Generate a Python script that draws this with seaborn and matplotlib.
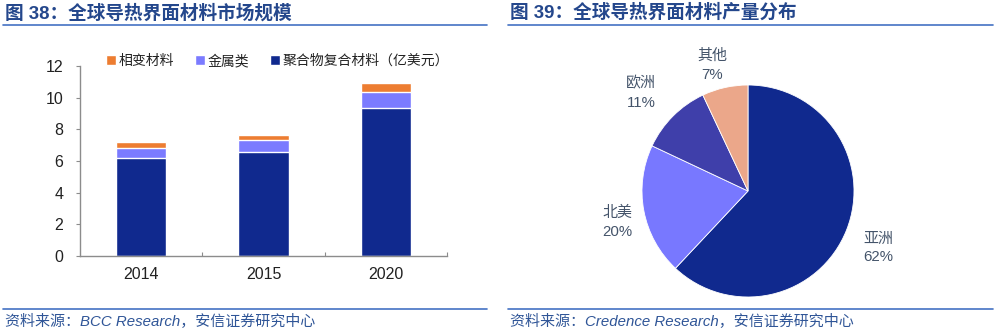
import matplotlib
matplotlib.use("Agg")
import matplotlib.pyplot as plt
from matplotlib.lines import Line2D
from matplotlib.patches import Patch
import numpy as np
import pandas as pd
import seaborn as sns

# ---------------- data ----------------
years = ["2014", "2015", "2020"]
polymer = [6.2, 6.6, 9.35]      # 聚合物复合材料
metal = [0.65, 0.7, 1.03]       # 金属类
phase = [0.35, 0.35, 0.55]      # 相变材料
series_names = ["相变材料", "金属类", "聚合物复合材料（亿美元）"]
yticks = [0, 2, 4, 6, 8, 10, 12]

regions = ["亚洲", "北美", "欧洲", "其他"]
shares = [62, 20, 11, 7]

title_left = "图 38：全球导热界面材料市场规模"
title_right = "图 39：全球导热界面材料产量分布"
source_left = "资料来源：BCC Research，安信证券研究中心"
source_right = "资料来源：Credence Research，安信证券研究中心"

# ---------------- style ----------------
sns.set_theme(style="white")
FONTS = ["Liberation Sans", "Noto Sans CJK SC", "DejaVu Sans"]
plt.rcParams["font.family"] = FONTS

C_POLY = "#10298E"
C_METAL = "#7B7BFF"
C_PHASE = "#ED7D31"
PIE_COLORS = ["#10298E", "#7878FF", "#3F3FAA", "#EBA78A"]
TITLE_C = "#24478C"
LINE_C = "#4472C4"
LABEL_C = "#44546A"

W, H = 1000, 333
fig = plt.figure(figsize=(10, 3.33), dpi=100)

def fx(px):
    return px / W

def fy(py):
    return 1 - py / H

# titles, rules, sources
for x0, x1, t, s in [(5, 487, title_left, source_left), (510, 993, title_right, source_right)]:
    fig.text(fx(x0), fy(13), t, fontsize=13.4, fontweight="bold", color=TITLE_C,
             va="center", ha="left", family=FONTS)
    fig.add_artist(Line2D([fx(x0 - 2), fx(x1)], [fy(25), fy(25)], color=LINE_C, lw=1.2))
    fig.add_artist(Line2D([fx(x0 - 2), fx(x1)], [fy(309), fy(309)], color=LINE_C, lw=1.2))
    fig.text(fx(x0), fy(322), s, fontsize=10.8, style="italic", color="#2F5597",
             va="center", ha="left", family=FONTS)

# ---------------- bar chart ----------------
ax = fig.add_axes([fx(80), fy(256), fx(447 - 80), (256 - 66) / H])
df = pd.DataFrame({"year": years, "polymer": polymer, "metal": metal, "phase": phase})
df["pm"] = df["polymer"] + df["metal"]
df["total"] = df["pm"] + df["phase"]

bw = 0.41
sns.barplot(data=df, x="year", y="total", color=C_PHASE, width=bw, ax=ax, saturation=1)
sns.barplot(data=df, x="year", y="pm", color=C_METAL, width=bw, ax=ax, saturation=1)
sns.barplot(data=df, x="year", y="polymer", color=C_POLY, width=bw, ax=ax, saturation=1)

ax.set_xlim(-0.5, 2.5)
ax.set_ylim(0, 12)
ax.set_yticks(yticks)
ax.set_xlabel("")
ax.set_ylabel("")
for sp in ["top", "right"]:
    ax.spines[sp].set_visible(False)
for sp in ["left", "bottom"]:
    ax.spines[sp].set_color("#8C8C8C")
    ax.spines[sp].set_linewidth(1.0)
ax.tick_params(axis="y", direction="out", length=3, width=0.8, color="#8C8C8C",
               labelsize=11.5, labelcolor="#222222", pad=9, left=True)
ax.tick_params(axis="x", which="major", length=0, labelsize=11.5, labelcolor="#222222", pad=8)
ax.set_xticks([0.5, 1.5, 2.5], minor=True)
ax.tick_params(axis="x", which="minor", direction="in", length=3, width=0.8, color="#8C8C8C",
               bottom=True)

handles = [Patch(facecolor=C_PHASE), Patch(facecolor=C_METAL), Patch(facecolor=C_POLY)]
fig.legend(handles, series_names, loc="center left", bbox_to_anchor=(fx(106), fy(61)),
           ncol=3, frameon=False, fontsize=10, handlelength=0.7, handleheight=0.7,
           handletextpad=0.2, columnspacing=1.5, borderaxespad=0, borderpad=0,
           labelcolor="#222222")

# ---------------- pie chart ----------------
cx, cy, r = 748, 191, 106
pax = fig.add_axes([fx(cx - r), fy(cy + r), 2 * r / W, 2 * r / H])
pax.pie(shares, colors=PIE_COLORS, startangle=90, counterclock=False,
        wedgeprops=dict(linewidth=0.6, edgecolor="white"), radius=1.0)
pax.set_xlim(-1, 1)
pax.set_ylim(-1, 1)
pax.set_aspect("auto")
pax.axis("off")

label_pos = {  # pixel centres of label blocks
    "亚洲": (878, 248),
    "北美": (617, 222),
    "欧洲": (641, 93),
    "其他": (712, 65),
}
for name, pct in zip(regions, shares):
    px, py = label_pos[name]
    fig.text(fx(px), fy(py), f"{name}\n{pct}%", fontsize=10.8, color=LABEL_C,
             ha="center", va="center", linespacing=1.45, family=FONTS)

fig.savefig("out.png", dpi=100)
